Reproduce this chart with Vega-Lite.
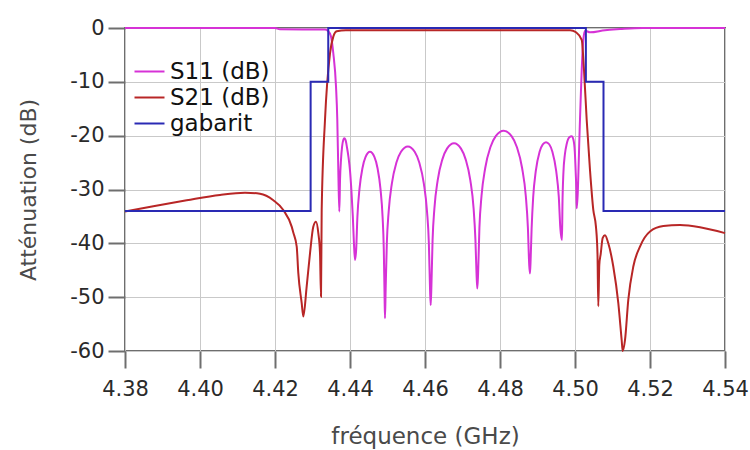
{
  "$schema": "https://vega.github.io/schema/vega-lite/v6.json",
  "width": 600,
  "height": 323,
  "autosize": "none",
  "padding": {"left": 125, "top": 28, "right": 25, "bottom": 99},
  "background": "white",
  "config": {
    "font": "DejaVu Sans",
    "view": {"stroke": "#6e6e6e", "strokeWidth": 2},
    "axis": {
      "domain": false,
      "grid": true,
      "gridColor": "#c9c9c9",
      "gridWidth": 1,
      "tickColor": "#6e6e6e",
      "tickWidth": 2,
      "tickSize": 17,
      "labelFont": "DejaVu Sans",
      "labelFontSize": 21,
      "labelColor": "#2a2a2a",
      "labelFlush": false,
      "titleFont": "DejaVu Sans",
      "titleFontSize": 23,
      "titleFontWeight": "normal",
      "titleColor": "#4a4a4a"
    }
  },
  "datasets": {
    "s11": [
      {"f": 4.38, "dB": 0}, {"f": 4.42, "dB": 0}, {"f": 4.4213, "dB": -0.25}, {"f": 4.4333, "dB": -0.3},
      {"f": 4.4342, "dB": -0.6}, {"f": 4.4349, "dB": -1.5}, {"f": 4.43555, "dB": -4.7}, {"f": 4.43627, "dB": -10.9},
      {"f": 4.43661, "dB": -17}, {"f": 4.43688, "dB": -26.4}, {"f": 4.43715, "dB": -34.1}, {"f": 4.43735, "dB": -28},
      {"f": 4.4376, "dB": -24.5}, {"f": 4.4379, "dB": -22}, {"f": 4.4382, "dB": -20.8}, {"f": 4.43848, "dB": -20.5},
      {"f": 4.4388, "dB": -20.8}, {"f": 4.4392, "dB": -22.2}, {"f": 4.4396, "dB": -24}, {"f": 4.44, "dB": -26.5},
      {"f": 4.4404, "dB": -30.5}, {"f": 4.44075, "dB": -35}, {"f": 4.44105, "dB": -40}, {"f": 4.44133, "dB": -43.1},
      {"f": 4.44165, "dB": -41.1}, {"f": 4.44197, "dB": -35.1}, {"f": 4.44253, "dB": -29.9}, {"f": 4.44333, "dB": -26},
      {"f": 4.44413, "dB": -24}, {"f": 4.44533, "dB": -23}, {"f": 4.44653, "dB": -24}, {"f": 4.44733, "dB": -26},
      {"f": 4.44813, "dB": -29.9}, {"f": 4.44869, "dB": -35.1}, {"f": 4.44901, "dB": -41.1}, {"f": 4.44921, "dB": -49.5},
      {"f": 4.44933, "dB": -53.9}, {"f": 4.44951, "dB": -48.5}, {"f": 4.44982, "dB": -40}, {"f": 4.45031, "dB": -34.1},
      {"f": 4.45116, "dB": -28.9}, {"f": 4.45238, "dB": -25}, {"f": 4.4536, "dB": -23}, {"f": 4.45543, "dB": -22},
      {"f": 4.45725, "dB": -23}, {"f": 4.45847, "dB": -25}, {"f": 4.45969, "dB": -28.9}, {"f": 4.46054, "dB": -34.1},
      {"f": 4.46103, "dB": -40}, {"f": 4.46134, "dB": -48.5}, {"f": 4.46152, "dB": -51.5}, {"f": 4.46171, "dB": -47.9},
      {"f": 4.46202, "dB": -39.4}, {"f": 4.46251, "dB": -33.5}, {"f": 4.46338, "dB": -28.3}, {"f": 4.46463, "dB": -24.4},
      {"f": 4.46587, "dB": -22.4}, {"f": 4.46774, "dB": -21.4}, {"f": 4.4696, "dB": -22.4}, {"f": 4.47084, "dB": -24.4},
      {"f": 4.47209, "dB": -28.3}, {"f": 4.47296, "dB": -33.5}, {"f": 4.47345, "dB": -39.4}, {"f": 4.47376, "dB": -46},
      {"f": 4.47395, "dB": -48.4}, {"f": 4.47416, "dB": -45.6}, {"f": 4.47451, "dB": -37.1}, {"f": 4.47507, "dB": -31.2},
      {"f": 4.47606, "dB": -26}, {"f": 4.47746, "dB": -22.1}, {"f": 4.47887, "dB": -20.1}, {"f": 4.48098, "dB": -19.1},
      {"f": 4.48308, "dB": -20.1}, {"f": 4.48449, "dB": -22.1}, {"f": 4.48589, "dB": -26}, {"f": 4.48688, "dB": -31.2},
      {"f": 4.48744, "dB": -37.1}, {"f": 4.48779, "dB": -44}, {"f": 4.488, "dB": -45.6}, {"f": 4.48817, "dB": -43},
      {"f": 4.48843, "dB": -37.3}, {"f": 4.48885, "dB": -31.4}, {"f": 4.48954, "dB": -26.6}, {"f": 4.49056, "dB": -23},
      {"f": 4.49141, "dB": -21.6}, {"f": 4.49227, "dB": -21.2}, {"f": 4.49312, "dB": -21.6}, {"f": 4.49397, "dB": -23},
      {"f": 4.49499, "dB": -26.6}, {"f": 4.49568, "dB": -31.4}, {"f": 4.4961, "dB": -37.3}, {"f": 4.49653, "dB": -39.4},
      {"f": 4.49665, "dB": -33}, {"f": 4.4969, "dB": -27}, {"f": 4.4973, "dB": -23.5}, {"f": 4.4978, "dB": -21.5},
      {"f": 4.4985, "dB": -20.3}, {"f": 4.49912, "dB": -20.1}, {"f": 4.4996, "dB": -20.8}, {"f": 4.49995, "dB": -23},
      {"f": 4.5002, "dB": -27}, {"f": 4.50035, "dB": -30}, {"f": 4.50045, "dB": -33.5}, {"f": 4.50133, "dB": -17},
      {"f": 4.50179, "dB": -7.8}, {"f": 4.50221, "dB": -2.2}, {"f": 4.50267, "dB": -0.5}, {"f": 4.504, "dB": -0.8},
      {"f": 4.508, "dB": -0.4}, {"f": 4.512, "dB": -0.2}, {"f": 4.518, "dB": 0}, {"f": 4.54, "dB": 0}
    ],
    "s21": [
      {"f": 4.38, "dB": -34.1}, {"f": 4.38755, "dB": -33.1}, {"f": 4.39645, "dB": -32}, {"f": 4.40533, "dB": -31},
      {"f": 4.412, "dB": -30.6}, {"f": 4.416, "dB": -30.8}, {"f": 4.41955, "dB": -32}, {"f": 4.42221, "dB": -33.8},
      {"f": 4.42445, "dB": -36.9}, {"f": 4.42488, "dB": -38}, {"f": 4.42579, "dB": -40.6}, {"f": 4.42621, "dB": -45.5},
      {"f": 4.42712, "dB": -51.1}, {"f": 4.42755, "dB": -53.6}, {"f": 4.42845, "dB": -48}, {"f": 4.42933, "dB": -41.9},
      {"f": 4.43021, "dB": -36.9}, {"f": 4.43093, "dB": -36}, {"f": 4.43155, "dB": -38.1}, {"f": 4.432, "dB": -41.8},
      {"f": 4.43227, "dB": -49.9}, {"f": 4.43245, "dB": -33.8}, {"f": 4.43333, "dB": -17.1}, {"f": 4.43467, "dB": -4.7},
      {"f": 4.43555, "dB": -1.6}, {"f": 4.43645, "dB": -0.6}, {"f": 4.43893, "dB": -0.4}, {"f": 4.49867, "dB": -0.4},
      {"f": 4.50027, "dB": -0.8}, {"f": 4.50179, "dB": -2.2}, {"f": 4.5024, "dB": -7.8}, {"f": 4.50312, "dB": -17.1},
      {"f": 4.504, "dB": -26.4}, {"f": 4.50488, "dB": -33.8}, {"f": 4.5056, "dB": -37}, {"f": 4.506, "dB": -42},
      {"f": 4.50621, "dB": -51.7}, {"f": 4.50648, "dB": -44}, {"f": 4.50685, "dB": -42}, {"f": 4.50739, "dB": -39},
      {"f": 4.508, "dB": -38.5}, {"f": 4.50888, "dB": -40}, {"f": 4.51021, "dB": -44.3}, {"f": 4.51155, "dB": -51.1},
      {"f": 4.51245, "dB": -58}, {"f": 4.51272, "dB": -60}, {"f": 4.51333, "dB": -58}, {"f": 4.51421, "dB": -50.5},
      {"f": 4.51555, "dB": -44.3}, {"f": 4.51733, "dB": -40.6}, {"f": 4.52, "dB": -37.8}, {"f": 4.52355, "dB": -36.8},
      {"f": 4.528, "dB": -36.6}, {"f": 4.53333, "dB": -37}, {"f": 4.54, "dB": -38.1}
    ],
    "gabarit": [
      {"f": 4.38, "dB": -34}, {"f": 4.4295, "dB": -10}, {"f": 4.4342, "dB": 0},
      {"f": 4.5029, "dB": -10}, {"f": 4.5076, "dB": -34}, {"f": 4.54, "dB": -34}
    ]
  },
  "encoding": {
    "x": {
      "field": "f",
      "type": "quantitative",
      "scale": {"domain": [4.38, 4.54], "nice": false, "zero": false},
      "axis": {
        "title": "fréquence (GHz)",
        "values": [4.38, 4.4, 4.42, 4.44, 4.46, 4.48, 4.5, 4.52, 4.54],
        "format": ".2f",
        "labelPadding": 10,
        "labelOverlap": false,
        "titlePadding": 26
      }
    },
    "y": {
      "field": "dB",
      "type": "quantitative",
      "scale": {"domain": [-60, 0], "nice": false},
      "axis": {
        "title": "Atténuation (dB)",
        "titleFontSize": 22,
        "values": [0, -10, -20, -30, -40, -50, -60],
        "labelExpr": "toString(datum.value)",
        "labelPadding": 4,
        "titlePadding": 29
      }
    },
    "color": {
      "field": "serie",
      "type": "nominal",
      "scale": {
        "domain": ["S11 (dB)", "S21 (dB)", "gabarit"],
        "range": ["#d632d6", "#b82626", "#2a2ab4"]
      },
      "legend": {
        "title": null,
        "orient": "none",
        "legendX": 13,
        "legendY": 32,
        "padding": 0,
        "symbolType": "M-1.5,0H1.5",
        "symbolSize": 400,
        "symbolStrokeWidth": 2,
        "symbolFillColor": "transparent",
        "labelFont": "DejaVu Sans",
        "labelFontSize": 23,
        "labelColor": "#111111",
        "labelOffset": 9,
        "rowPadding": 2
      }
    }
  },
  "layer": [
    {
      "data": {"name": "s11"},
      "transform": [{"calculate": "'S11 (dB)'", "as": "serie"}],
      "mark": {"type": "line", "strokeWidth": 2, "interpolate": "monotone"}
    },
    {
      "data": {"name": "s21"},
      "transform": [{"calculate": "'S21 (dB)'", "as": "serie"}],
      "mark": {"type": "line", "strokeWidth": 2, "interpolate": "monotone"}
    },
    {
      "data": {"name": "gabarit"},
      "transform": [{"calculate": "'gabarit'", "as": "serie"}],
      "mark": {"type": "line", "strokeWidth": 2, "interpolate": "step-after"}
    }
  ]
}
